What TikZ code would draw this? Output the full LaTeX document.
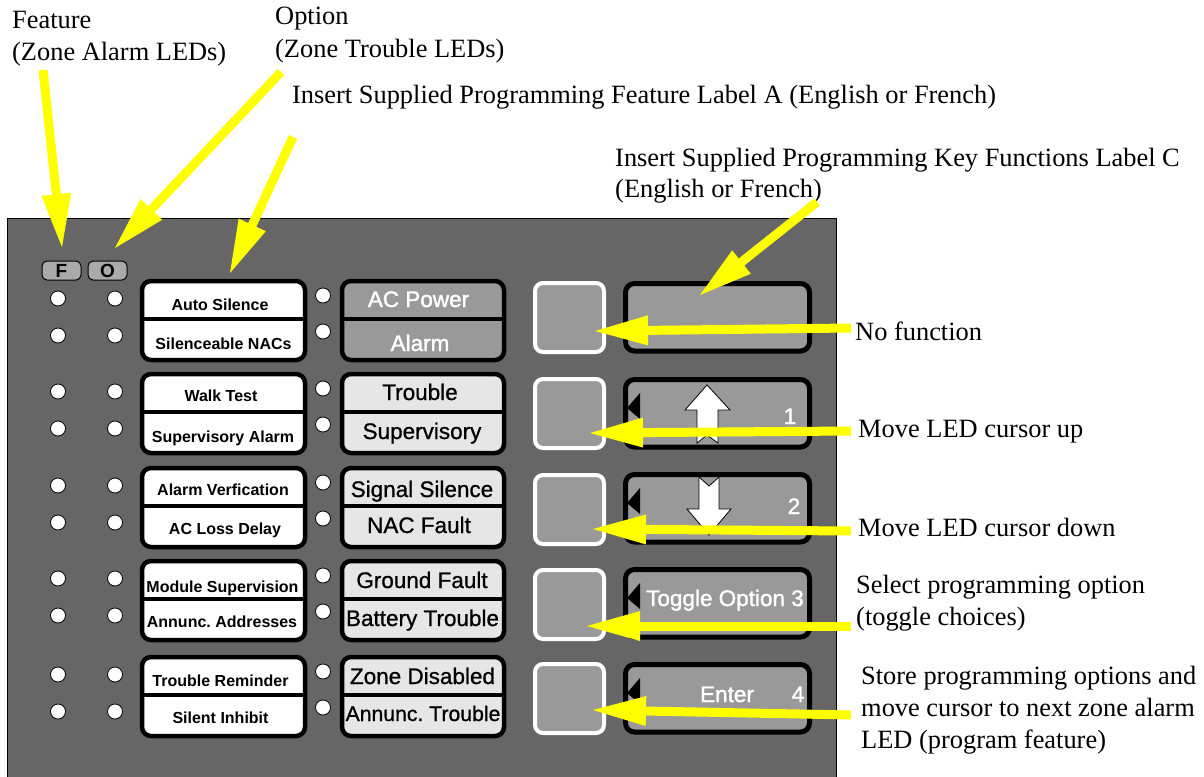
\documentclass[tikz,border=0pt]{standalone}
\usepackage{fontspec}
\setmainfont{Liberation Serif}
\newfontfamily\arialf{Liberation Sans}
\newfontfamily\arialh{Liberation Sans}[FakeBold=0.8]
\newfontfamily\arialw{Liberation Sans}[FakeBold=1.6]
\usetikzlibrary{calc}
\definecolor{panelg}{HTML}{666666}
\definecolor{keyg}{HTML}{999999}
\definecolor{lightg}{HTML}{E6E6E6}
\definecolor{fog}{HTML}{AAAAAA}
\definecolor{yel}{HTML}{FFFF00}
\newcommand{\yarrow}[2]{%
  \path ($(#2)!53pt!(#1)$) coordinate (yb);
  \draw[yel, line width=9pt] (#1) -- ($(#2)!45pt!(#1)$);
  \fill[yel] (#2) -- ($(yb)!15pt!90:(#2)$) -- ($(yb)!15pt!-90:(#2)$) -- cycle;
}
\frenchspacing
\begin{document}
\begin{tikzpicture}[x=1pt,y=-1pt,
  note/.style={anchor=base west, inner sep=0pt, font=\fontsize{26.4}{32}\selectfont},
  lbl/.style={anchor=base, inner sep=0pt, font=\arialf\bfseries\fontsize{16}{16}\selectfont},
  stat/.style={anchor=base, inner sep=0pt, font=\arialh\fontsize{22.5}{22.5}\selectfont},
  wstat/.style={anchor=base, inner sep=0pt, text=white, font=\arialw\fontsize{22.5}{22.5}\selectfont},
  keyt/.style={anchor=base, inner sep=0pt, text=white, font=\arialw\fontsize{22.5}{22.5}\selectfont},
  fotag/.style={inner sep=0pt, font=\arialf\bfseries\fontsize{19}{19}\selectfont},
  led/.style={circle, draw=black, line width=0.8pt, fill=white, minimum size=15pt, inner sep=0pt},
  lblbox/.style={draw=black, line width=4.5pt, fill=white, rounded corners=9pt},
  divider/.style={draw=black, line width=3.5pt},
  sqbtn/.style={draw=white, line width=4pt, fill=keyg, rounded corners=8pt},
  keybox/.style={draw=black, line width=5pt, fill=keyg, rounded corners=9pt},
  blockarrow/.style={draw=black, line width=0.8pt, fill=white, line join=miter}
]
\useasboundingbox (0,0) rectangle (1204,776);
% panel
\draw[fill=panelg, line width=1pt] (7,218) rectangle (836,782);
% F / O tags
\draw[fill=fog, line width=1pt, rounded corners=5pt] (42,261) rectangle (81,280);
\draw[fill=fog, line width=1pt, rounded corners=5pt] (88,261) rectangle (127,280);
\node[fotag] (tagF) at (61.5,271) {F};
\node[fotag] (tagO) at (107.5,271) {O};
% groups
\foreach \T/\fc [count=\i] in {279/keyg,372/lightg,466/lightg,559/lightg,655/lightg} {
  \node[led] (fa\i) at (58,\T+19.5) {};
  \node[led] (fb\i) at (58,\T+56.5) {};
  \node[led] (oa\i) at (115,\T+19.5) {};
  \node[led] (ob\i) at (115,\T+56.5) {};
  \draw[lblbox] (142,\T+2) rectangle (305,\T+81);
  \draw[divider] (142,\T+40) -- (305,\T+40);
  \node[led] (ma\i) at (323,\T+16.5) {};
  \node[led] (mb\i) at (323,\T+52.5) {};
  \draw[lblbox, fill=\fc] (342,\T+2) rectangle (504,\T+81);
  \draw[divider] (342,\T+40) -- (504,\T+40);
}
% left labels
\foreach \t/\x/\y [count=\i] in {Auto Silence/220/310, Silenceable NACs/223.5/349,
  Walk Test/221/401, Supervisory Alarm/223/442,
  Alarm Verfication/223/495, AC Loss Delay/225/534,
  Module Supervision/222.5/592, Annunc. Addresses/222/627,
  Trouble Reminder/220.5/686, Silent Inhibit/220.5/723} {
  \node[lbl] (lab\i) at (\x,\y) {\t};
}
% status labels
\node[wstat] (st1) at (418.5,307) {AC Power};
\node[wstat] (st2) at (420,351) {Alarm};
\foreach \t/\x/\y [count=\i from 3] in {Trouble/420/400, Supervisory/422/439,
  Signal Silence/422/497, NAC Fault/419/533,
  Ground Fault/422/588, Battery Trouble/422.5/626,
  Zone Disabled/422.5/684} {
  \node[stat] (st\i) at (\x,\y) {\t};
}
\node[stat, font=\arialh\fontsize{21.2}{21.2}\selectfont] (st10) at (423,721) {Annunc. Trouble};
% square buttons
\foreach \S in {281,377,473,568,662} {
  \draw[sqbtn] (535,\S+2) rectangle (604,\S+71);
}
% key boxes
\foreach \K [count=\i] in {281,377,472,567,662} {
  \draw[keybox] (625.5,\K+2.5) rectangle (809.5,\K+70);
  \ifnum\i>1
    \fill[black] (640,\K+16) -- (627,\K+31) -- (640,\K+42) -- cycle;
  \fi
}
% up / down block arrows
\draw[blockarrow] (707,385) -- (730,410) -- (718,410) -- (718,443) -- (707,435) -- (697,443) -- (697,410) -- (685,410) -- cycle;
\draw[blockarrow] (699,477) -- (709,486) -- (719,477) -- (719,509) -- (731,509) -- (709,535) -- (687,509) -- (699,509) -- cycle;
\node[keyt] (k1) at (790,424) {1};
\node[keyt] (k2) at (794,514) {2};
\node[keyt] (k3) at (725,606) {Toggle Option 3};
\node[keyt] (k4a) at (727,702) {Enter};
\node[keyt] (k4b) at (798,702) {4};
% annotation texts
\node[note] (nFeat) at (12,29) {Feature};
\node[note] (nFeat2) at (12,61) {(Zone Alarm LEDs)};
\node[note] (nOpt) at (275,25) {Option};
\node[note] (nOpt2) at (275,57) {(Zone Trouble LEDs)};
\node[note] (nLabA) at (292,103) {Insert Supplied Programming Feature Label A (English or French)};
\node[note] (nLabC) at (615,166) {Insert Supplied Programming Key Functions Label C};
\node[note] (nLabC2) at (615,197) {(English or French)};
\node[note] (nNo) at (855,340) {No function};
\node[note] (nUp) at (858,437) {Move LED cursor up};
\node[note] (nDown) at (858,536) {Move LED cursor down};
\node[note] (nSel) at (856,593) {Select programming option};
\node[note] (nSel2) at (856,625) {(toggle choices)};
\node[note] (nSt) at (861,684) {Store programming options and};
\node[note] (nSt2) at (861,716) {move cursor to next zone alarm};
\node[note] (nSt3) at (861,748) {LED (program feature)};
% yellow arrow ends
\coordinate (t1) at (43,70);   \coordinate (h1) at (62,247);
\coordinate (t2) at (281,72);  \coordinate (h2) at (115,248);
\coordinate (t3) at (293,137); \coordinate (h3) at (230,273);
\coordinate (t4) at (817,202); \coordinate (h4) at (700,295);
\coordinate (t5) at (851,328); \coordinate (h5) at (595,331);
\coordinate (t6) at (851,431); \coordinate (h6) at (590,433);
\coordinate (t7) at (851,531); \coordinate (h7) at (593,529);
\coordinate (t8) at (851,626); \coordinate (h8) at (587,626);
\coordinate (t9) at (851,715); \coordinate (h9) at (593,710);
\foreach \n in {1,...,9} { \yarrow{t\n}{h\n} }
\end{tikzpicture}
\end{document}
